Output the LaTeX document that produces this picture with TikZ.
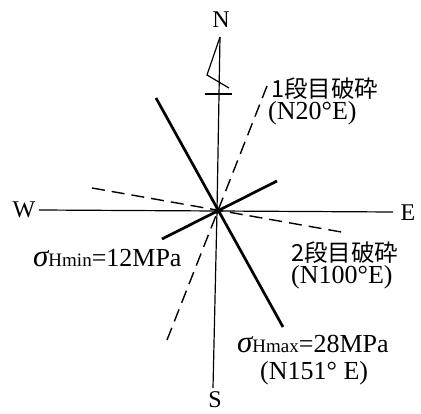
\documentclass[tikz,border=0pt]{standalone}
\usepackage{fontspec}
\setmainfont{Liberation Serif}
\newfontfamily\cjk{Noto Sans CJK JP}
\begin{document}
\begin{tikzpicture}[x=1pt,y=-1pt,
  axis/.style={line width=1.2pt},
  stress/.style={line width=2.7pt},
  frac/.style={line width=1.4pt,dash pattern=on 13pt off 7pt},
  lbl/.style={font=\fontsize{24}{26}\selectfont, inner sep=0pt, anchor=base},
  txt/.style={font=\fontsize{26}{28}\selectfont, inner sep=0pt, anchor=base west}]
\useasboundingbox (0,0) rectangle (421,414);
\coordinate (O) at (217,211);
% axes
\coordinate (Ntop) at (220,37);
\coordinate (Sbot) at (213,388);
\coordinate (Wend) at (39,210);
\coordinate (Eend) at (393,212);
\draw[axis] (Ntop) -- (O) -- (Sbot);
\draw[axis] (Wend) -- (O) -- (Eend);
\node[lbl] (N) at (221,28) {N};
\node[lbl] (S) at (215,408) {S};
\node[lbl] (W) at (24,218) {W};
\node[lbl] (E) at (408,221) {E};
% north arrow flag
\coordinate (f1) at (207,75);
\coordinate (f2) at (229,88);
\coordinate (c1) at (205,94);
\coordinate (c2) at (232,94);
\draw[axis] (Ntop) -- (f1) -- (f2);
\draw[axis] (c1) -- (c2);
% stress lines
\coordinate (hx1) at (156,98);
\coordinate (hx2) at (283,327);
\coordinate (hn1) at (162,239);
\coordinate (hn2) at (277,181);
\draw[stress] (hx1) -- (hx2);
\draw[stress] (hn1) -- (hn2);
% fracture lines
\coordinate (d1a) at (267,86);
\coordinate (d1b) at (167,340);
\coordinate (d2a) at (92,188);
\coordinate (d2b) at (347,233);
\draw[frac] (d1a) -- (d1b);
\draw[frac] (d2a) -- (d2b);
\fill (O) circle (2.8pt);
% labels
\node[txt] (t1) at (271,98) {{\cjk\fontsize{23.5}{25}\selectfont 1段目破砕}};
\node[txt] (t1b) at (268,120) {(N20°E)};
\node[txt] (t2) at (291,262) {{\cjk\fontsize{23.5}{25}\selectfont 2段目破砕}};
\node[txt] (t2b) at (291,284) {(N100°E)};
\node[txt] (smin) at (33,267) {{\fontsize{31}{31}\selectfont\itshape σ}{\fontsize{19}{20}\selectfont Hmin}=12MPa};
\node[txt] (smax) at (237,353) {{\fontsize{31}{31}\selectfont\itshape σ}{\fontsize{19}{20}\selectfont Hmax}=28MPa};
\node[txt] (smaxb) at (260,380) {(N151° E)};
\end{tikzpicture}
\end{document}
